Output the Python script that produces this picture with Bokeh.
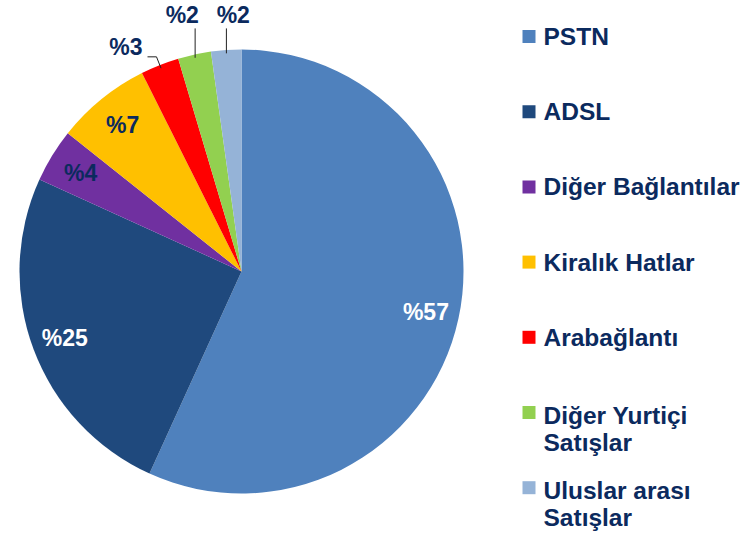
import math
from bokeh.plotting import figure
from bokeh.models import Range1d
from bokeh.embed import file_html
from bokeh.resources import INLINE
from bokeh.core.properties import value

# ---- data ----
categories = ["PSTN", "ADSL", "Diğer Bağlantılar", "Kiralık Hatlar",
              "Arabağlantı", "Diğer Yurtiçi\nSatışlar", "Uluslar arası\nSatışlar"]
shares = [56.8, 25.0, 3.9, 6.9, 2.8, 2.4, 2.2]
pct_labels = ["%" + str(round(s)) for s in shares]

# ---- style ----
colors = ["#4F81BD", "#1F497D", "#7030A0", "#FFC000", "#FF0000", "#92D050", "#95B3D7"]
label_colors = ["white", "white", "#0B2A5E", "#0B2A5E", "#0B2A5E", "#0B2A5E", "#0B2A5E"]
TEXT = "#0B2A5E"
FONT = value("Liberation Sans")

W, H = 746, 534
OFF = H  # image y -> data y
cx, cy, R = 241, OFF - 271, 222

p = figure(width=W, height=H, x_range=Range1d(0, W), y_range=Range1d(0, H),
           output_backend="svg", toolbar_location=None, min_border=0,
           x_axis_type=None, y_axis_type=None)
p.grid.visible = False
p.outline_line_color = None
p.background_fill_color = "white"

total = sum(shares)
starts, ends, mids = [], [], []
cum = 0.0
for s in shares:
    a0 = math.pi / 2 - 2 * math.pi * cum / total
    cum += s
    a1 = math.pi / 2 - 2 * math.pi * cum / total
    starts.append(a0)
    ends.append(a1)
    mids.append((a0 + a1) / 2)

p.wedge(x=[cx] * len(shares), y=[cy] * len(shares), radius=R,
        start_angle=starts, end_angle=ends, direction="clock",
        fill_color=colors, line_color=None)

# inside labels
ix, iy, it, ic = [], [], [], []
for i, s in enumerate(shares):
    if s >= 3.5:
        ix.append(cx + 0.85 * R * math.cos(mids[i]))
        iy.append(cy + 0.85 * R * math.sin(mids[i]))
        it.append(pct_labels[i])
        ic.append(label_colors[i])
p.text(x=ix, y=iy, text=it, text_color=ic, text_font=FONT, text_font_style="bold",
       text_font_size="23px", text_align="center", text_baseline="middle")

# outside labels with leader lines
vert = []
for i, s in enumerate(shares):
    if s >= 3.5:
        continue
    m = mids[i]
    d = math.degrees(math.pi / 2 - m) % 360
    from_top = min(d, 360 - d)
    x0 = cx + 0.985 * R * math.cos(m)
    y0 = cy + 0.985 * R * math.sin(m)
    if from_top < 15:
        vert.append((i, x0, y0))
    else:
        xe = cx + 1.04 * R * math.cos(m)
        ye = cy + 1.04 * R * math.sin(m)
        xh = xe - 9
        p.line([x0, xe, xh], [y0, ye, ye], line_color="#222222", line_width=1)
        p.text(x=[xh - 5], y=[ye + 10], text=[pct_labels[i]], text_color=TEXT,
               text_font=FONT, text_font_style="bold", text_font_size="23px",
               text_align="right", text_baseline="middle")

if vert:
    ytop = cy + 1.095 * R
    mean_x = sum(v[1] for v in vert) / len(vert)
    n = len(vert)
    for k, (i, x0, y0) in enumerate(vert):
        p.line([x0, x0], [y0, ytop], line_color="#222222", line_width=1)
        lxk = mean_x - 3 + (k - (n - 1) / 2) * 51
        p.text(x=[lxk], y=[ytop + 13], text=[pct_labels[i]], text_color=TEXT,
               text_font=FONT, text_font_style="bold", text_font_size="23px",
               text_align="center", text_baseline="middle")

# legend
lx_sq, lx_tx = 528.5, 543
row0, step = 36, 75.2
sq_x, sq_y = [], []
tx, ty, tt = [], [], []
for i, c in enumerate(categories):
    yc = OFF - (row0 + step * i)
    sq_x.append(lx_sq)
    sq_y.append(yc)
    lines = c.split("\n")
    first = yc - (0 if len(lines) == 1 else 3)
    for k, ln in enumerate(lines):
        tx.append(lx_tx)
        ty.append(first - 27 * k)
        tt.append(ln)
p.scatter(x=sq_x, y=sq_y, marker="square", size=13, fill_color=colors, line_color=None)
p.text(x=tx, y=ty, text=tt, text_color=TEXT, text_font=FONT, text_font_style="bold",
       text_font_size="24.5px", text_align="left", text_baseline="middle")

open("out.html", "w").write(file_html(p, INLINE))
